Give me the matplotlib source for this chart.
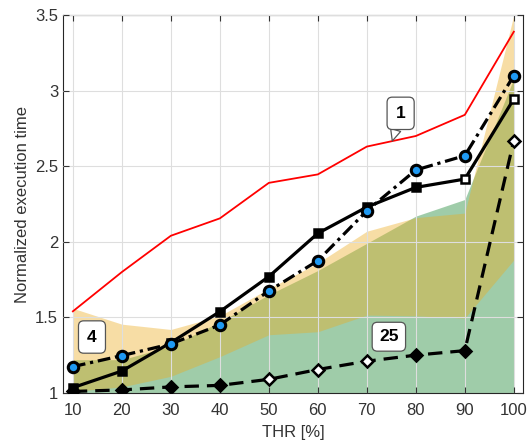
import matplotlib
matplotlib.use("Agg")
import matplotlib.pyplot as plt
import numpy as np

plt.rcParams['font.family'] = ['Liberation Sans', 'DejaVu Sans']

thr = [10, 20, 30, 40, 50, 60, 70, 80, 90, 100]
xtick_labels = ['10', '20', '30', '40', '50', '60', '70', '80', '90', '100']
ytick_vals = [1, 1.5, 2, 2.5, 3, 3.5]
ytick_labels = ['1', '1.5', '2', '2.5', '3', '3.5']

# mean normalized execution time per thread count
t1 = [1.54, 1.80, 2.04, 2.155, 2.39, 2.446, 2.63, 2.70, 2.84, 3.39]
t2 = [1.035, 1.145, 1.333, 1.538, 1.77, 2.056, 2.23, 2.36, 2.415, 2.945]
t4 = [1.174, 1.247, 1.324, 1.45, 1.675, 1.875, 2.205, 2.475, 2.57, 3.10]
t25 = [1.01, 1.02, 1.04, 1.05, 1.09, 1.155, 1.21, 1.25, 1.28, 2.67]

# spread bands
green_hi = [1.22, 1.22, 1.31, 1.47, 1.65, 1.81, 1.99, 2.17, 2.28, 3.08]
orange_lo = [1.01, 1.04, 1.11, 1.24, 1.385, 1.405, 1.515, 1.51, 1.495, 1.88]
orange_hi = [1.56, 1.455, 1.42, 1.51, 1.69, 1.86, 2.07, 2.16, 2.19, 3.5]

# marker faces (True = filled)
sq_filled = [True, True, True, True, True, True, True, True, False, False]
dm_filled = [True, True, True, True, False, False, False, True, True, False]

fig = plt.figure(figsize=(5.3, 4.44), dpi=100)
ax = fig.add_axes([0.119, 0.115, 0.868, 0.851])

ax.fill_between(thr, 1.0, green_hi, color=(0.255, 0.608, 0.333), alpha=0.5,
                lw=0, zorder=1)
ax.fill_between(thr, orange_lo, orange_hi, color=(0.93, 0.675, 0.118), alpha=0.4,
                lw=0, zorder=1.1)

ax.plot(thr, t1, color='red', lw=1.3, zorder=3)

ax.plot(thr, t2, color='black', lw=2.3, zorder=4)
for x, y, f in zip(thr, t2, sq_filled):
    ax.plot(x, y, marker='s', ms=6, mec='black', mew=1.8,
            mfc='black' if f else 'white', zorder=4.5)

ax.plot(thr, t4, color='black', lw=2.3, ls=(0, (4, 1.5, 1, 1.5)), zorder=5)
ax.plot(thr, t4, ls='none', marker='o', ms=7.5, mec='black', mew=2.2,
        mfc=(0.12, 0.6, 0.95), zorder=5.5)

ax.plot(thr, t25, color='black', lw=2.3, ls=(0, (4.5, 2.5)), zorder=4)
for x, y, f in zip(thr, t25, dm_filled):
    ax.plot(x, y, marker='D', ms=6, mec='black', mew=1.8,
            mfc='black' if f else 'white', zorder=4.5)

box = dict(boxstyle='round,pad=0.5,rounding_size=0.3', fc='white',
           ec='#555555', lw=0.9)
ax.annotate('1', xy=(75.2, 2.667), xytext=(76.9, 2.85),
            fontsize=12.5, fontweight='bold', ha='center', va='center',
            bbox=box, zorder=7,
            arrowprops=dict(arrowstyle='wedge,tail_width=0.6,shrink_factor=0.5',
                            fc='white', ec='#555555', lw=0.9,
                            shrinkA=0, shrinkB=0))
ax.text(13.9, 1.37, '4', fontsize=12.5, fontweight='bold', ha='center',
        va='center', bbox=box, zorder=7)
ax.text(74.5, 1.372, '25', fontsize=12.5, fontweight='bold', ha='center',
        va='center', bbox=dict(box, boxstyle='round,pad=0.4,rounding_size=0.3'),
        zorder=7)

ax.set_xlim(8, 101.9)
ax.set_ylim(1, 3.5)
ax.set_xticks(thr)
ax.set_xticklabels(xtick_labels)
ax.set_yticks(ytick_vals)
ax.set_yticklabels(ytick_labels)
ax.tick_params(direction='in', top=True, right=True, labelsize=12,
               colors='#333333', length=4, width=0.8)
ax.tick_params(axis='x', pad=7)
for s in ax.spines.values():
    s.set_color('#262626')
    s.set_linewidth(0.8)
ax.set_axisbelow(False)
ax.grid(True, color='#dedede', lw=0.8)
ax.set_xlabel('THR [%]', fontsize=12, color='#333333', labelpad=5)
ax.set_ylabel('Normalized execution time', fontsize=12, color='#333333',
              labelpad=4)

fig.savefig('out.png', dpi=100)
